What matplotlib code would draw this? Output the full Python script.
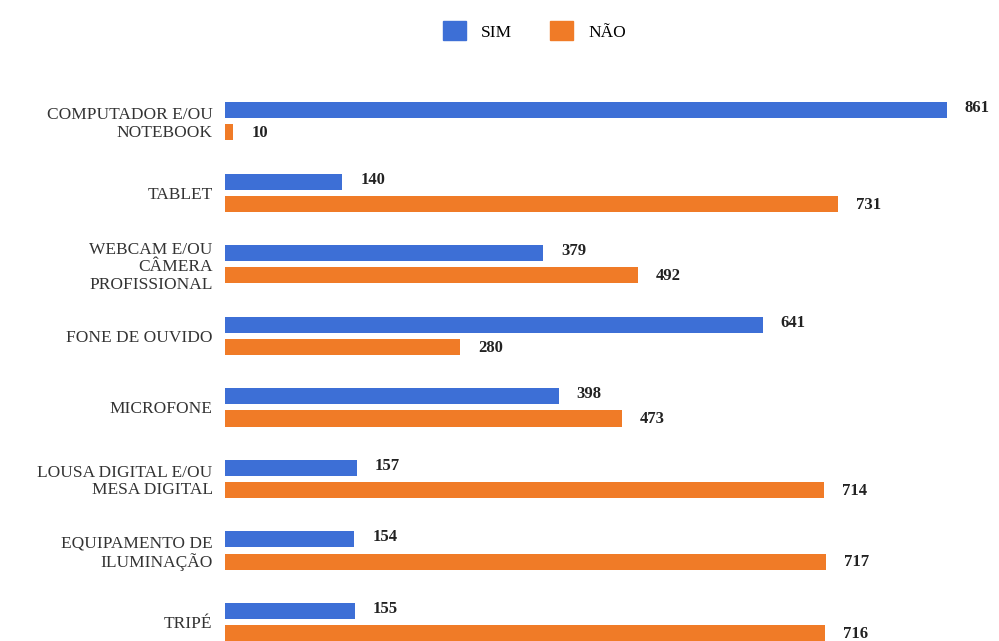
import matplotlib
matplotlib.use("Agg")
import matplotlib.pyplot as plt
from matplotlib.patches import Patch

categories = ["COMPUTADOR E/OU\nNOTEBOOK", "TABLET", "WEBCAM E/OU\nCÂMERA\nPROFISSIONAL",
              "FONE DE OUVIDO", "MICROFONE", "LOUSA DIGITAL E/OU\nMESA DIGITAL",
              "EQUIPAMENTO DE\nILUMINAÇÃO", "TRIPÉ"]
sim = [861, 140, 379, 641, 398, 157, 154, 155]
nao = [10, 731, 492, 280, 473, 714, 717, 716]
series_names = ["SIM", "NÃO"]

blue = "#3D6FD6"
orange = "#F07B27"
serif = ["Liberation Serif", "DejaVu Serif"]

W, H = 999, 641
fig = plt.figure(figsize=(W / 100, H / 100), dpi=100)
left_px, right_px = 225, 990
ax = fig.add_axes([left_px / W, 0, (right_px - left_px) / W, 1])
pxu = 722 / 861
ax.set_xlim(0, (right_px - left_px) / pxu)
ax.set_ylim(7 + 19 / 71.5, -121.5 / 71.5)

off = 11 / 71.5
h = 16 / 71.5
ys = list(range(len(categories)))
ax.barh([y - off for y in ys], sim, height=h, color=blue)
ax.barh([y + off for y in ys], nao, height=h, color=orange)

for y, s, n in zip(ys, sim, nao):
    ax.text(s + 18 / pxu, y - off - 2 / 71.5, str(s), ha="left", va="center",
            fontsize=12, fontweight="bold", family=serif, color="#222222")
    ax.text(n + 18 / pxu, y + off + 1 / 71.5, str(n), ha="left", va="center",
            fontsize=12, fontweight="bold", family=serif, color="#222222")

ax.set_yticks(ys)
ax.set_yticklabels(categories, family=serif, fontsize=12.5, color="#333333", linespacing=1.12)
ax.tick_params(axis="y", length=0, pad=9)
ax.tick_params(axis="x", length=0, labelbottom=False)
for sp in ax.spines.values():
    sp.set_visible(False)

handles = [Patch(color=blue), Patch(color=orange)]
fig.legend(handles, series_names, loc="center", bbox_to_anchor=(0.535, 1 - 31 / H), ncol=2,
           frameon=False, prop={"family": serif, "size": 12.5}, handlelength=1.32, handleheight=1.32,
           columnspacing=2.2, handletextpad=0.86)
fig.savefig("out.png", dpi=100)
